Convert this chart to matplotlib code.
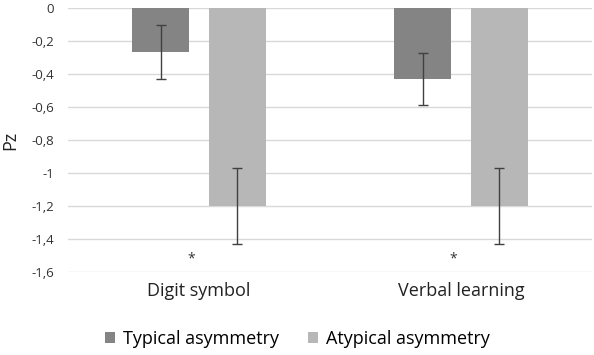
import numpy as np
import matplotlib
matplotlib.use("Agg")
import matplotlib.pyplot as plt

# data
categories = ['Digit symbol', 'Verbal learning']
series_names = ['Typical asymmetry', 'Atypical asymmetry']
typical = [-0.265, -0.43]
atypical = [-1.2, -1.2]
typical_err = [0.165, 0.16]
atypical_err = [0.23, 0.23]
star_y = [-1.52, -1.52]
yticks = [0, -0.2, -0.4, -0.6, -0.8, -1.0, -1.2, -1.4, -1.6]

plt.rcParams['font.family'] = ['Open Sans', 'DejaVu Sans']

fig = plt.figure(figsize=(5.94, 3.55), dpi=100)
ax = fig.add_axes([68/594, 1-272/355, 524/594, 264/355])

x = np.arange(len(categories))
w = 0.218
off = 0.146
ax.bar(x - off, typical, w, color='#848484', label=series_names[0], zorder=2)
ax.bar(x + off, atypical, w, color='#b7b7b7', label=series_names[1], zorder=2)
ax.errorbar(x - off, typical, yerr=typical_err, fmt='none', ecolor='#404040',
            elinewidth=1, capsize=3.5, capthick=1, zorder=3)
ax.errorbar(x + off, atypical, yerr=atypical_err, fmt='none', ecolor='#404040',
            elinewidth=1, capsize=3.5, capthick=1, zorder=3)

for xi, sy in zip(x, star_y):
    ax.text(xi - 0.03, sy, '*', ha='center', va='center', fontsize=10, color='#333333')

ax.set_xlim(-0.5, 1.5)
ax.set_ylim(-1.6, 0)
ax.set_yticks(yticks)
ax.set_yticklabels([('%g' % v).replace('.', ',') if v != 0 else '0' for v in yticks],
                   fontsize=9.5, color='#333333')
ax.set_xticks(x)
ax.set_xticklabels(categories, fontsize=13, color='#222222')
ax.tick_params(length=0)
ax.tick_params(axis='y', pad=10)
ax.tick_params(axis='x', pad=7)
ax.grid(axis='y', color='#d9d9d9', linewidth=1, zorder=0)
for s in ax.spines.values():
    s.set_visible(False)
ax.set_ylabel('Pz', fontsize=13, color='#222222', labelpad=9)

fig.legend(loc='center', bbox_to_anchor=(0.5, 1-339/355), ncol=2, frameon=False,
           fontsize=13, handlelength=0.6, handleheight=0.6, handletextpad=0.4,
           columnspacing=1.6)

fig.savefig('out.png', dpi=100)
